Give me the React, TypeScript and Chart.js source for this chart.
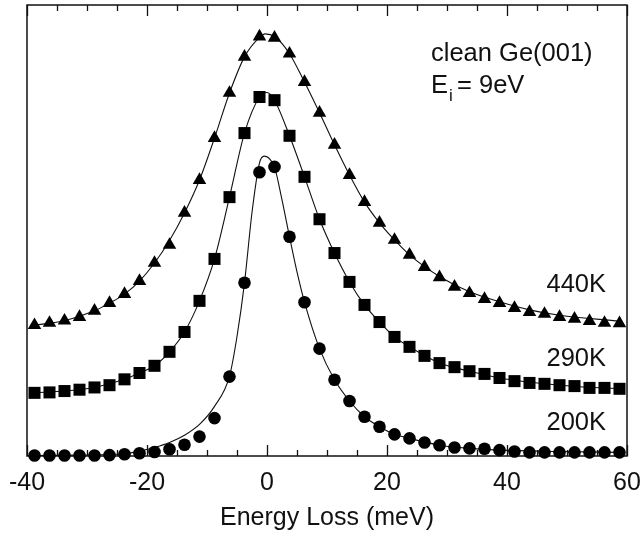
import React, { useEffect, useRef } from "react";
import { Chart, registerables } from "chart.js";

Chart.register(...registerables);

// Energy loss (meV) of the measured points
const energy = [
  -38.75, -36.25, -33.75, -31.25, -28.75, -26.25, -23.75, -21.25, -18.75, -16.25,
  -13.75, -11.25, -8.75, -6.25, -3.75, -1.25, 1.25, 3.75, 6.25, 8.75,
  11.25, 13.75, 16.25, 18.75, 21.25, 23.75, 26.25, 28.75, 31.25, 33.75,
  36.25, 38.75, 41.25, 43.75, 46.25, 48.75, 51.25, 53.75, 56.25, 58.75,
];

// Measured intensities (arb. units, offset per temperature)
const counts440K = [
  29.0, 29.5, 30.0, 30.8, 32.2, 33.9, 35.9, 38.8, 42.8, 46.8,
  53.9, 61.2, 70.5, 80.5, 88.5, 93.0, 92.7, 89.2, 82.9, 76.1,
  69.0, 62.3, 56.3, 51.7, 47.9, 44.6, 41.9, 39.6, 37.5, 36.1,
  34.8, 33.9, 32.8, 31.9, 31.5, 30.8, 30.4, 29.9, 29.5, 29.4,
];
const counts290K = [
  14.0, 14.1, 14.4, 14.7, 15.2, 15.7, 17.0, 18.4, 20.0, 23.1,
  27.5, 34.4, 43.7, 57.4, 71.6, 79.6, 78.9, 71.0, 61.9, 52.5,
  45.0, 38.6, 33.5, 29.7, 26.4, 24.2, 22.2, 20.6, 19.7, 18.8,
  18.2, 17.3, 16.6, 16.2, 16.0, 15.7, 15.5, 15.1, 15.1, 14.9,
];
const counts200K = [
  0.1, 0.1, 0.1, 0.1, 0.1, 0.2, 0.4, 0.6, 0.9, 1.5,
  2.5, 4.3, 8.4, 17.6, 38.4, 62.9, 64.1, 48.6, 34.1, 23.8,
  16.9, 12.2, 8.7, 6.5, 4.8, 3.9, 3.0, 2.4, 1.9, 1.7,
  1.6, 1.3, 1.0, 0.8, 0.8, 0.8, 0.8, 0.8, 0.8, 0.8,
];

// Fitted curves
const fitEnergy440K = [
  -38.75, -33.75, -28.75, -26.25, -23.75, -21.25, -18.75, -16.25, -13.75, -11.25,
  -8.75, -6.25, -3.75, -1.25, -0.3, 1.25, 3.75, 6.25, 8.75, 11.25,
  13.75, 16.25, 18.75, 21.25, 23.75, 28.75, 33.75, 38.75, 43.75, 48.75, 58.75,
];
const fit440K = [
  29.0, 30.0, 32.2, 33.9, 35.9, 38.8, 42.8, 47.8, 53.9, 61.2,
  70.5, 80.5, 88.5, 92.8, 93.6, 93.0, 89.2, 82.9, 76.1, 69.0,
  62.3, 56.3, 51.7, 47.9, 44.6, 39.8, 36.4, 34.2, 32.4, 31.2, 29.9,
];
const fitEnergy290K = [
  -38.75, -33.75, -28.75, -23.75, -21.25, -18.75, -16.25, -13.75, -11.25, -8.75,
  -6.25, -3.75, -1.25, 0.0, 1.25, 3.75, 6.25, 8.75, 11.25, 13.75,
  16.25, 18.75, 21.25, 23.75, 28.75, 33.75, 38.75, 48.75, 58.75,
];
const fit290K = [
  14.0, 14.4, 15.2, 17.0, 18.4, 20.0, 23.1, 27.5, 34.4, 43.7,
  57.4, 71.6, 79.6, 80.6, 78.9, 71.0, 61.9, 52.5, 45.0, 38.6,
  33.5, 29.7, 26.4, 24.2, 20.6, 18.8, 17.3, 15.7, 14.9,
];
const fitEnergy200K = [
  -38.75, -31.25, -23.75, -21.25, -18.75, -16.25, -13.75, -11.25, -8.75, -6.25,
  -5.0, -3.75, -2.5, -1.25, -0.45, 1.25, 2.5, 3.75, 5.0, 6.25,
  8.75, 11.25, 13.75, 16.25, 18.75, 21.25, 23.75, 28.75, 33.75, 38.75,
  48.75, 58.75,
];
const fit200K = [
  0.1, 0.2, 0.5, 1.1, 1.9, 3.0, 4.6, 7.0, 11.0, 17.7,
  26.5, 38.4, 54.0, 65.0, 66.5, 64.0, 56.8, 48.6, 40.8, 34.1,
  23.8, 16.9, 12.2, 8.7, 6.5, 4.8, 3.9, 2.4, 1.7, 1.3,
  1.0, 0.8,
];

const majorTicks = [-40, -20, 0, 20, 40, 60];
const minorTicks = [-35, -30, -25, -15, -10, -5, 5, 10, 15, 25, 30, 35, 45, 50, 55];
const temperatureLabels = ["440K", "290K", "200K"];
const labelLevels = [38.0, 21.6, 7.4];

const FONT = '"Liberation Sans", Arial, Helvetica, sans-serif';

const toPoints = (xs: number[], ys: number[]) => xs.map((x, i) => ({ x, y: ys[i] }));

const framePlugin = {
  id: "frame",
  beforeDatasetsDraw(chart: any) {
    const { ctx, chartArea: a, scales } = chart;
    const xs = scales.x;
    ctx.save();
    ctx.strokeStyle = "#111";
    ctx.lineWidth = 1.5;
    ctx.strokeRect(a.left, a.top, a.right - a.left, a.bottom - a.top);
    ctx.lineWidth = 1.3;
    const drawTick = (v: number, len: number) => {
      const px = Math.round(xs.getPixelForValue(v)) + 0.5;
      ctx.beginPath();
      ctx.moveTo(px, a.bottom);
      ctx.lineTo(px, a.bottom - len);
      ctx.moveTo(px, a.top);
      ctx.lineTo(px, a.top + len);
      ctx.stroke();
    };
    majorTicks.forEach((v) => drawTick(v, 11));
    minorTicks.forEach((v) => drawTick(v, 6));
    ctx.restore();
  },
  afterDraw(chart: any) {
    const { ctx, scales } = chart;
    ctx.save();
    ctx.fillStyle = "#111";
    ctx.textBaseline = "alphabetic";
    ctx.textAlign = "left";
    ctx.font = `25.5px ${FONT}`;
    ctx.fillText("clean Ge(001)", 431, 61);
    ctx.fillText("E", 431, 93);
    const eW = ctx.measureText("E").width;
    ctx.font = `17px ${FONT}`;
    ctx.fillText("i", 431 + eW + 1, 101);
    ctx.font = `25.5px ${FONT}`;
    ctx.fillText("= 9eV", 431 + eW + 9, 93);
    ctx.textAlign = "right";
    ctx.textBaseline = "middle";
    temperatureLabels.forEach((t, i) => {
      const y = scales.y.getPixelForValue(labelLevels[i]);
      ctx.fillText(t, 606, y);
    });
    ctx.restore();
  },
};

export default function App() {
  const ref = useRef<HTMLCanvasElement | null>(null);
  useEffect(() => {
    if (!ref.current) return;
    const markerBase = {
      showLine: false,
      backgroundColor: "#000",
      borderColor: "#000",
      borderWidth: 0,
      clip: false as any,
      order: 0,
    };
    const lineBase = {
      showLine: true,
      pointRadius: 0,
      borderColor: "#111",
      borderWidth: 1.1,
      cubicInterpolationMode: "monotone" as const,
      clip: false as any,
      order: 1,
    };
    const chart = new Chart(ref.current, {
      type: "scatter",
      data: {
        datasets: [
          { ...markerBase, label: "440K", data: toPoints(energy, counts440K), pointStyle: "triangle", pointRadius: 7.8 },
          { ...markerBase, label: "290K", data: toPoints(energy, counts290K), pointStyle: "rect", pointRadius: 8.5 },
          { ...markerBase, label: "200K", data: toPoints(energy, counts200K), pointStyle: "circle", pointRadius: 6.3 },
          { ...lineBase, label: "fit 440K", data: toPoints(fitEnergy440K, fit440K) },
          { ...lineBase, label: "fit 290K", data: toPoints(fitEnergy290K, fit290K) },
          { ...lineBase, label: "fit 200K", data: toPoints(fitEnergy200K, fit200K) },
        ] as any,
      },
      options: {
        animation: false,
        responsive: false,
        layout: { autoPadding: false, padding: { left: 27, right: 17, top: 5, bottom: 4 } },
        plugins: { legend: { display: false }, tooltip: { enabled: false } },
        scales: {
          x: {
            type: "linear",
            min: -40,
            max: 60,
            grid: { display: false, drawTicks: false },
            border: { display: false },
            afterFit: (scale: any) => {
              scale.height = 77;
              scale.paddingLeft = 0;
              scale.paddingRight = 0;
            },
            ticks: {
              stepSize: 20,
              padding: 12,
              color: "#111",
              font: { family: FONT, size: 25 },
              maxRotation: 0,
            },
            title: {
              display: true,
              text: "Energy Loss (meV)",
              color: "#111",
              font: { family: FONT, size: 25 },
              padding: { top: 5, bottom: 0 },
            },
          },
          y: {
            display: false,
            min: 0,
            max: 100,
            afterFit: (scale: any) => {
              scale.width = 0;
              scale.paddingTop = 0;
              scale.paddingBottom = 0;
            },
          },
        },
      },
      plugins: [framePlugin],
    });
    return () => chart.destroy();
  }, []);
  return (
    <div style={{ position: "fixed", left: 0, top: 0, width: 644, height: 537, background: "#fff" }}>
      <canvas ref={ref} width={644} height={537} style={{ display: "block" }} />
    </div>
  );
}
